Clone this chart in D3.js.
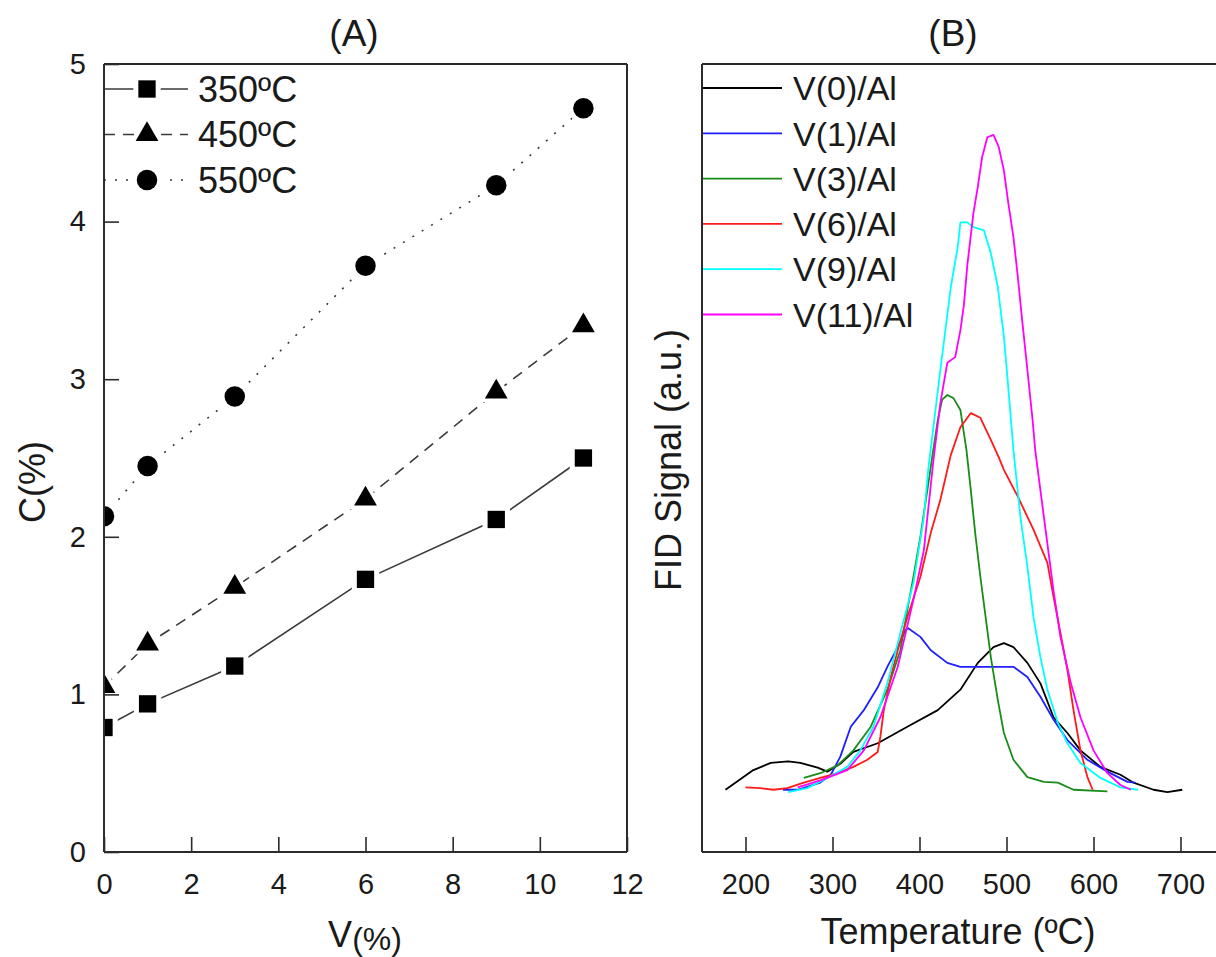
<!DOCTYPE html>
<html>
<head>
<meta charset="utf-8">
<script src="https://cdn.jsdelivr.net/npm/d3@7"></script>
<style>
  body { margin: 0; background: #fff; }
  text { font-family: "Liberation Sans", Arial, sans-serif; fill: #1a1a1a; }
</style>
</head>
<body>
<svg id="chart" width="1216" height="957"></svg>
<script>
// ---- panel A: carbon content vs V loading ----
const vLoading = [0, 1, 3, 6, 9, 11];
const c350 = [0.79, 0.94, 1.18, 1.73, 2.11, 2.50];
const c450 = [1.05, 1.32, 1.68, 2.24, 2.92, 3.34];
const c550 = [2.13, 2.45, 2.89, 3.72, 4.23, 4.72];
const xTicksA = [0, 2, 4, 6, 8, 10, 12];
const yTicksA = [0, 1, 2, 3, 4, 5];

// ---- panel B: TPO profiles (FID signal, a.u.) ----
const tempV0 = [177, 209, 229, 249, 263, 283, 294, 309, 324, 352, 386, 421, 447, 467, 485, 497, 508, 524, 539, 554, 570, 585, 608, 631, 646, 669, 685, 702];
const fidV0 = [7.9, 10.4, 11.3, 11.5, 11.3, 10.7, 10.2, 11.2, 12.7, 13.8, 15.9, 18.0, 20.6, 24.0, 26.0, 26.5, 26.0, 24.0, 21.4, 17.1, 15.1, 12.9, 10.8, 9.8, 8.8, 7.9, 7.6, 7.9];

const tempV1 = [243, 260, 286, 298, 309, 321, 336, 352, 363, 375, 384, 387, 401, 413, 432, 447, 485, 508, 524, 539, 554, 570, 593, 616, 639, 648];
const fidV1 = [7.9, 7.9, 8.8, 9.8, 12.1, 15.9, 18.0, 20.9, 23.5, 26.0, 28.2, 28.4, 27.3, 25.6, 24.0, 23.5, 23.5, 23.5, 22.2, 19.7, 16.8, 14.2, 11.7, 10.2, 8.9, 8.8];

const tempV3 = [267, 286, 306, 324, 344, 363, 378, 386, 393, 401, 409, 415, 421, 426, 432, 439, 447, 454, 459, 464, 470, 476, 482, 490, 497, 508, 524, 543, 559, 577, 616];
const fidV3 = [9.4, 10.0, 11.0, 12.9, 15.9, 20.6, 25.6, 30.7, 34.9, 40.0, 45.9, 50.4, 54.8, 57.4, 58.0, 57.6, 56.1, 51.0, 45.9, 40.5, 34.9, 29.8, 24.7, 19.3, 15.1, 11.7, 9.5, 8.9, 8.8, 7.9, 7.7];

const tempV6 = [200, 217, 232, 248, 267, 286, 306, 324, 340, 352, 355, 359, 367, 375, 386, 401, 413, 424, 436, 447, 459, 470, 482, 491, 497, 513, 531, 547, 554, 562, 570, 577, 585, 593, 599];
const fidV6 = [8.2, 8.1, 7.9, 8.1, 8.8, 9.4, 10.0, 10.8, 11.7, 12.7, 14.6, 18.0, 22.2, 25.6, 29.8, 34.9, 40.5, 44.7, 50.4, 53.9, 55.7, 55.1, 52.3, 50.1, 48.5, 45.1, 40.9, 36.7, 32.4, 27.8, 23.1, 18.0, 12.9, 9.5, 7.9];

const tempV9 = [249, 271, 294, 317, 332, 347, 363, 378, 393, 405, 410, 424, 436, 444, 447, 455, 462, 474, 482, 490, 497, 502, 508, 516, 524, 531, 539, 547, 559, 570, 585, 608, 631, 651];
const fidV9 = [7.6, 8.1, 9.4, 10.8, 12.9, 15.9, 21.4, 27.8, 34.1, 42.5, 48.5, 61.2, 71.7, 76.8, 79.9, 79.9, 79.3, 78.9, 76.0, 71.7, 65.4, 59.0, 51.0, 42.5, 36.2, 29.8, 24.7, 20.6, 16.4, 13.8, 11.3, 9.4, 8.2, 7.9];

const tempV11 = [260, 286, 317, 336, 355, 375, 393, 405, 416, 424, 432, 441, 447, 451, 455, 462, 467, 472, 478, 485, 491, 497, 502, 508, 513, 518, 524, 530, 533, 543, 554, 562, 574, 585, 600, 616, 631, 643];
const fidV11 = [8.2, 9.1, 10.4, 12.9, 17.1, 23.5, 32.0, 38.3, 49.7, 57.0, 62.1, 62.8, 66.2, 69.4, 74.5, 81.1, 84.4, 88.2, 90.7, 91.0, 89.5, 86.5, 82.4, 78.0, 73.0, 67.5, 61.2, 54.8, 51.0, 42.5, 33.2, 27.3, 21.4, 17.1, 12.9, 10.0, 8.5, 7.9];

const xTicksB = [200, 300, 400, 500, 600, 700];

const seriesA = [
  { name: '350ºC', values: c350, symbol: d3.symbolSquare, size: 300, halo: 750, dash: null },
  { name: '450ºC', values: c450, symbol: d3.symbolTriangle, size: 225, halo: 540, dash: '11,8' },
  { name: '550ºC', values: c550, symbol: d3.symbolCircle, size: 330, halo: 720, dash: '2,9' }
];

const seriesB = [
  { name: 'V(0)/Al', color: '#000000', temp: tempV0, fid: fidV0 },
  { name: 'V(1)/Al', color: '#1f1fff', temp: tempV1, fid: fidV1 },
  { name: 'V(3)/Al', color: '#1a8c1a', temp: tempV3, fid: fidV3 },
  { name: 'V(6)/Al', color: '#ff1a1a', temp: tempV6, fid: fidV6 },
  { name: 'V(9)/Al', color: '#00ffff', temp: tempV9, fid: fidV9 },
  { name: 'V(11)/Al', color: '#ff00ff', temp: tempV11, fid: fidV11 }
];

const svg = d3.select('#chart');
const frameColor = '#2b2b2b';

function drawFrame(g, x0, x1, y0, y1, withRight) {
  const f = g.append('g').attr('stroke', frameColor).attr('stroke-width', 2).attr('fill', 'none');
  f.append('line').attr('x1', x0).attr('x2', x1).attr('y1', y0).attr('y2', y0);
  f.append('line').attr('x1', x0).attr('x2', x1).attr('y1', y1).attr('y2', y1);
  f.append('line').attr('x1', x0).attr('x2', x0).attr('y1', y0).attr('y2', y1);
  if (withRight) f.append('line').attr('x1', x1).attr('x2', x1).attr('y1', y0).attr('y2', y1);
}

function styleAxis(g) {
  g.select('.domain').remove();
  g.selectAll('.tick line').attr('stroke', frameColor).attr('stroke-width', 1.6);
  g.selectAll('.tick text').attr('font-size', 29).attr('fill', '#1a1a1a')
    .style('font-family', '"Liberation Sans", Arial, sans-serif');
}

// ================= Panel A =================
const xA = d3.scaleLinear().domain([0, 12]).range([104, 627]);
const yA = d3.scaleLinear().domain([0, 5]).range([852, 64]);

svg.append('clipPath').attr('id', 'clipA')
  .append('rect').attr('x', 104).attr('y', 64).attr('width', 523).attr('height', 788);

const gA = svg.append('g');
const plotA = gA.append('g').attr('clip-path', 'url(#clipA)');

const lineA = d3.line().x((d) => xA(d[0])).y((d) => yA(d[1]));

seriesA.forEach((s) => {
  const pts = vLoading.map((v, i) => [v, s.values[i]]);
  plotA.append('path')
    .attr('d', lineA(pts))
    .attr('fill', 'none')
    .attr('stroke', '#3a3a3a')
    .attr('stroke-width', 1.6)
    .attr('stroke-dasharray', s.dash);
  // white halo so the line stops short of each marker
  plotA.selectAll(null).data(pts).join('path')
    .attr('transform', (d) => `translate(${xA(d[0])},${yA(d[1])})`)
    .attr('d', d3.symbol().type(s.symbol).size(s.halo))
    .attr('fill', '#fff');
  plotA.selectAll(null).data(pts).join('path')
    .attr('transform', (d) => `translate(${xA(d[0])},${yA(d[1])})`)
    .attr('d', d3.symbol().type(s.symbol).size(s.size))
    .attr('fill', '#000');
});

// legend A
const legA = gA.append('g');
seriesA.forEach((s, i) => {
  const y = 89 + i * 45.5;
  legA.append('line')
    .attr('x1', 104).attr('x2', 188).attr('y1', y).attr('y2', y)
    .attr('stroke', '#3a3a3a').attr('stroke-width', 1.6)
    .attr('stroke-dasharray', s.dash);
  legA.append('path')
    .attr('transform', `translate(147,${y})`)
    .attr('d', d3.symbol().type(s.symbol).size(s.halo)).attr('fill', '#fff');
  legA.append('path')
    .attr('transform', `translate(147,${y})`)
    .attr('d', d3.symbol().type(s.symbol).size(s.size)).attr('fill', '#000');
  legA.append('text')
    .attr('x', 198).attr('y', y).attr('dy', '0.36em')
    .attr('font-size', 36).text(s.name);
});

// axes A (ticks point inward)
const axAx = gA.append('g').attr('transform', 'translate(0,852)')
  .call(d3.axisBottom(xA).tickValues(xTicksA).tickSizeInner(-15).tickSizeOuter(0).tickPadding(21));
styleAxis(axAx);
const axAy = gA.append('g').attr('transform', 'translate(104,0)')
  .call(d3.axisLeft(yA).tickValues(yTicksA).tickFormat(d3.format('d')).tickSizeInner(-15).tickSizeOuter(0).tickPadding(18));
styleAxis(axAy);

drawFrame(gA, 104, 627, 64, 852, true);

gA.append('text').attr('x', 354).attr('y', 46).attr('text-anchor', 'middle')
  .attr('font-size', 37).text('(A)');
const vLab = gA.append('text').attr('x', 365).attr('y', 947).attr('text-anchor', 'middle')
  .attr('font-size', 36);
vLab.append('tspan').text('V');
vLab.append('tspan').attr('font-size', 32).attr('dy', 3).text('(%)');
gA.append('text')
  .attr('transform', 'translate(45,482) rotate(-90)')
  .attr('text-anchor', 'middle').attr('font-size', 36).text('C(%)');

// ================= Panel B =================
const xB = d3.scaleLinear().domain([150, 750]).range([702, 1224]);
const yB = d3.scaleLinear().domain([0, 100]).range([852, 64]);

svg.append('clipPath').attr('id', 'clipB')
  .append('rect').attr('x', 702).attr('y', 64).attr('width', 522).attr('height', 788);

const gB = svg.append('g');
const plotB = gB.append('g').attr('clip-path', 'url(#clipB)');
const lineB = d3.line().x((d) => xB(d[0])).y((d) => yB(d[1]));

seriesB.forEach((s) => {
  const pts = s.temp.map((t, i) => [t, s.fid[i]]);
  plotB.append('path')
    .attr('d', lineB(pts))
    .attr('fill', 'none')
    .attr('stroke', s.color)
    .attr('stroke-width', 1.8)
    .attr('stroke-linejoin', 'round');
});

// legend B
seriesB.forEach((s, i) => {
  const y = 88 + i * 45.3;
  gB.append('line')
    .attr('x1', 702).attr('x2', 782).attr('y1', y).attr('y2', y)
    .attr('stroke', s.color).attr('stroke-width', 1.8);
  gB.append('text')
    .attr('x', 793).attr('y', y).attr('dy', '0.36em')
    .attr('font-size', 34).text(s.name);
});

const axBx = gB.append('g').attr('transform', 'translate(0,852)')
  .call(d3.axisBottom(xB).tickValues(xTicksB).tickSizeInner(-15).tickSizeOuter(0).tickPadding(21));
styleAxis(axBx);

drawFrame(gB, 702, 1224, 64, 852, true);

gB.append('text').attr('x', 953).attr('y', 46).attr('text-anchor', 'middle')
  .attr('font-size', 37).text('(B)');
gB.append('text').attr('x', 958).attr('y', 944).attr('text-anchor', 'middle')
  .attr('font-size', 36).text('Temperature (ºC)');
gB.append('text')
  .attr('transform', 'translate(681,460) rotate(-90)')
  .attr('text-anchor', 'middle').attr('font-size', 36).text('FID Signal (a.u.)');
</script>
</body>
</html>
